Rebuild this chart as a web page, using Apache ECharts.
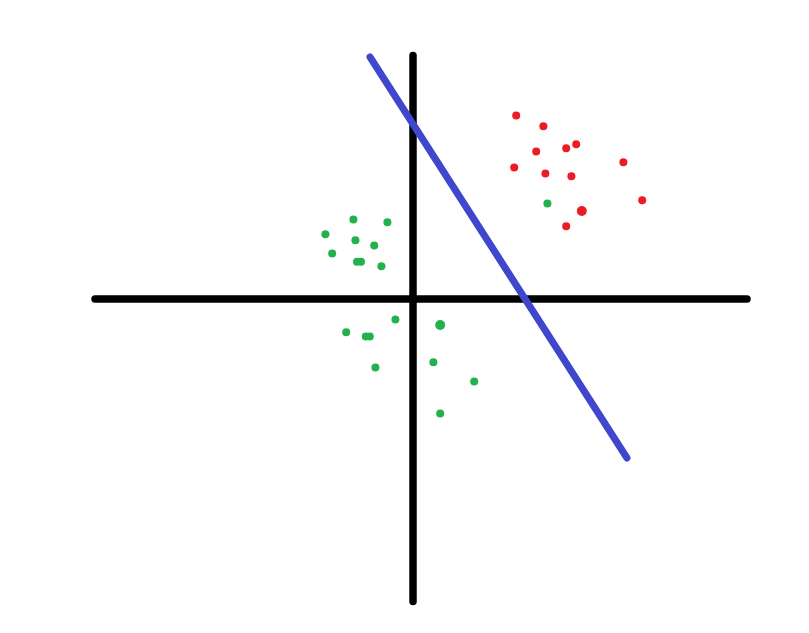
<!DOCTYPE html>
<html>
<head>
<meta charset="utf-8">
<script src="https://cdn.jsdelivr.net/npm/echarts@6/dist/echarts.min.js"></script>
<style>html,body{margin:0;padding:0;background:#fff}#c{width:809px;height:633px}</style>
</head>
<body>
<div id="c"></div>
<script>
// Hand-drawn axes (data units)
const horizontalAxis = [[-7.95, 0], [8.35, 0]];
const verticalAxis = [[0, 6.09], [0, -7.56]];
// Separating line
const separator = [[-1.075, 6.05], [5.35, -3.975]];
// Red class points
const redPoints = [
  [2.58, 4.59], [3.26, 4.32], [3.08, 3.69], [3.83, 3.77], [4.08, 3.87],
  [5.26, 3.42], [2.53, 3.29], [3.31, 3.14], [3.96, 3.07], [5.73, 2.47],
  [3.83, 1.82]
];
const redLarge = [[4.22, 2.20]];
// Green class points
const greenPoints = [
  [3.36, 2.39], [-1.49, 1.99], [-0.64, 1.92], [-2.19, 1.62], [-1.44, 1.47],
  [-0.97, 1.34], [-2.02, 1.14], [-1.40, 0.93], [-1.30, 0.93], [-0.79, 0.82],
  [-0.44, -0.51], [-1.67, -0.83], [-1.18, -0.94], [-1.08, -0.94], [-0.94, -1.71],
  [0.51, -1.58], [1.53, -2.06], [0.68, -2.86]
];
const greenLarge = [[0.68, -0.65]];

const chart = echarts.init(document.getElementById('c'), null, {renderer: 'canvas'});
const lineStyle = (color, w) => ({color: color, width: w, cap: 'round', opacity: 1});
const dot = (color) => ({color: color, opacity: 1});
chart.setOption({
  animation: false,
  backgroundColor: '#ffffff',
  grid: {left: 0, top: 0, right: 0, bottom: 0, containLabel: false},
  xAxis: {type: 'value', min: -10.325, max: 9.9, show: false},
  yAxis: {type: 'value', min: -8.35, max: 7.475, show: false},
  series: [
    {type: 'line', data: horizontalAxis, symbol: 'none', lineStyle: lineStyle('#000000', 7.5), z: 2, silent: true},
    {type: 'line', data: verticalAxis, symbol: 'none', lineStyle: lineStyle('#000000', 7.5), z: 2, silent: true},
    {type: 'line', data: separator, symbol: 'none', lineStyle: lineStyle('#3f48cc', 7), z: 3, silent: true},
    {type: 'scatter', data: redPoints, symbolSize: 8, itemStyle: dot('#ed1c24'), z: 4},
    {type: 'scatter', data: redLarge, symbolSize: 10, itemStyle: dot('#ed1c24'), z: 4},
    {type: 'scatter', data: greenPoints, symbolSize: 8, itemStyle: dot('#22b14c'), z: 4},
    {type: 'scatter', data: greenLarge, symbolSize: 10, itemStyle: dot('#22b14c'), z: 4}
  ]
});
</script>
</body>
</html>
